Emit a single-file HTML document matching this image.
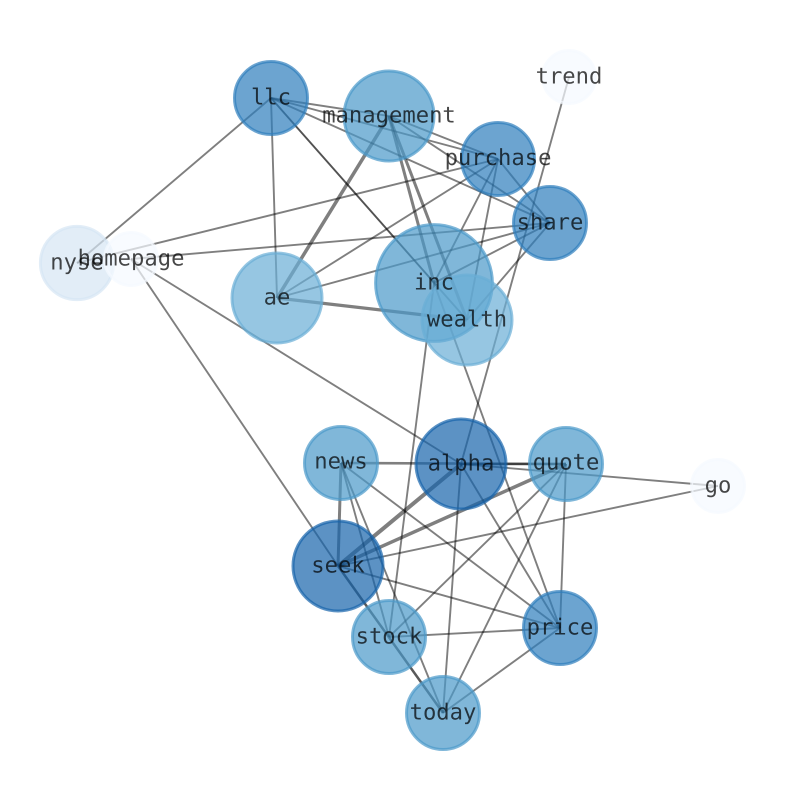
<!DOCTYPE html>
<html>
<head>
<meta charset="utf-8">
<style>
html,body{margin:0;padding:0;background:#fff;width:794px;height:790px;overflow:hidden}
svg{display:block}
text{font-family:"DejaVu Sans Mono","Liberation Mono",monospace;font-size:22.2px;text-anchor:middle;fill:#000;fill-opacity:.72;text-rendering:geometricPrecision}
.e line{stroke:#000;stroke-opacity:.5;stroke-width:1.9}
circle{stroke-width:3;fill-opacity:.7;stroke-opacity:.7}
</style>
</head>
<body>
<svg width="794" height="790" viewBox="0 0 794 790" xmlns="http://www.w3.org/2000/svg">
<g class="e">
<line x1="271" y1="98" x2="389" y2="116"/>
<line x1="271" y1="98" x2="498" y2="159"/>
<line x1="271" y1="98" x2="550" y2="223"/>
<line x1="271" y1="98" x2="277" y2="298"/>
<line x1="271" y1="98" x2="467" y2="320" style="stroke-opacity:.68"/>
<line x1="271" y1="98" x2="77" y2="263"/>
<line x1="389" y1="116" x2="498" y2="159"/>
<line x1="389" y1="116" x2="550" y2="223"/>
<line x1="389" y1="116" x2="434" y2="283" style="stroke-width:3"/>
<line x1="389" y1="116" x2="467" y2="320" style="stroke-width:3"/>
<line x1="498" y1="159" x2="550" y2="223"/>
<line x1="498" y1="159" x2="277" y2="298"/>
<line x1="498" y1="159" x2="434" y2="283"/>
<line x1="498" y1="159" x2="467" y2="320"/>
<line x1="498" y1="159" x2="77" y2="263"/>
<line x1="550" y1="223" x2="277" y2="298"/>
<line x1="550" y1="223" x2="434" y2="283"/>
<line x1="550" y1="223" x2="467" y2="320"/>
<line x1="550" y1="223" x2="131" y2="259"/>
<line x1="569" y1="77" x2="461" y2="464"/>
<line x1="434" y1="283" x2="389" y2="637"/>
<line x1="434" y1="283" x2="560" y2="628"/>
<line x1="131" y1="259" x2="461" y2="464"/>
<line x1="131" y1="259" x2="338" y2="566"/>
<line x1="341" y1="463" x2="389" y2="637"/>
<line x1="341" y1="463" x2="443" y2="713"/>
<line x1="341" y1="463" x2="560" y2="628"/>
<line x1="461" y1="464" x2="560" y2="628"/>
<line x1="461" y1="464" x2="443" y2="713"/>
<line x1="461" y1="464" x2="718" y2="486"/>
<line x1="566" y1="464" x2="389" y2="637"/>
<line x1="566" y1="464" x2="443" y2="713"/>
<line x1="566" y1="464" x2="560" y2="628"/>
<line x1="338" y1="566" x2="718" y2="486"/>
<line x1="338" y1="566" x2="560" y2="628"/>
<line x1="338" y1="566" x2="443" y2="713" style="stroke-width:2.5;stroke-opacity:.65"/>
<line x1="389" y1="637" x2="560" y2="628"/>
<line x1="560" y1="628" x2="443" y2="713"/>
<line x1="389" y1="116" x2="277" y2="298" style="stroke-width:3.5"/>
<line x1="277" y1="298" x2="467" y2="320" style="stroke-width:3.2"/>
<line x1="341" y1="463" x2="566" y2="464" style="stroke-width:2.6"/>
<line x1="461" y1="464" x2="566" y2="464" style="stroke-width:2.6"/>
<line x1="341" y1="463" x2="338" y2="566" style="stroke-width:3"/>
<line x1="461" y1="464" x2="338" y2="566" style="stroke-width:4"/>
<line x1="566" y1="464" x2="338" y2="566" style="stroke-width:3.5"/>
</g>
<g>
<circle cx="271" cy="98" r="36.5" fill="#2e7ebc" stroke="#2e7ebc"/>
<circle cx="389" cy="116" r="45" fill="#4a98c9" stroke="#4a98c9"/>
<circle cx="498" cy="159" r="36.5" fill="#2e7ebc" stroke="#2e7ebc"/>
<circle cx="569" cy="77" r="26.5" fill="#f5faff" stroke="#f5faff"/>
<circle cx="550" cy="223" r="36.5" fill="#2e7ebc" stroke="#2e7ebc"/>
<circle cx="77" cy="263" r="36.6" fill="#d6e5f4" stroke="#d6e5f4"/>
<circle cx="131" cy="259" r="26.5" fill="#f5faff" stroke="#f5faff"/>
<circle cx="277" cy="298" r="45" fill="#6aaed6" stroke="#6aaed6"/>
<circle cx="434" cy="283" r="58.4" fill="#4a98c9" stroke="#4a98c9"/>
<circle cx="467" cy="320" r="45" fill="#6aaed6" stroke="#6aaed6"/>
<circle cx="341" cy="463" r="36.5" fill="#4a98c9" stroke="#4a98c9"/>
<circle cx="461" cy="464" r="45" fill="#1764ab" stroke="#1764ab"/>
<circle cx="566" cy="464" r="36.5" fill="#4a98c9" stroke="#4a98c9"/>
<circle cx="718" cy="486" r="26.5" fill="#f5faff" stroke="#f5faff"/>
<circle cx="338" cy="566" r="45" fill="#1764ab" stroke="#1764ab"/>
<circle cx="389" cy="637" r="36.5" fill="#4a98c9" stroke="#4a98c9"/>
<circle cx="560" cy="628" r="36.5" fill="#2e7ebc" stroke="#2e7ebc"/>
<circle cx="443" cy="713" r="36.5" fill="#4a98c9" stroke="#4a98c9"/>
</g>
<g>
<text x="271" y="104.4">llc</text>
<text x="389" y="122.4">management</text>
<text x="498" y="165">purchase</text>
<text x="569" y="83.5">trend</text>
<text x="550" y="229.4">share</text>
<text x="77" y="269.4">nyse</text>
<text x="131" y="265.4">homepage</text>
<text x="277" y="304.4">ae</text>
<text x="434" y="289.4">inc</text>
<text x="467" y="326.4">wealth</text>
<text x="341" y="468.4">news</text>
<text x="461" y="470.4">alpha</text>
<text x="566" y="469.4">quote</text>
<text x="718" y="492.4">go</text>
<text x="338" y="572.4">seek</text>
<text x="389" y="643.4">stock</text>
<text x="560" y="634.4">price</text>
<text x="443" y="719.4">today</text>
</g>
</svg>
</body>
</html>
